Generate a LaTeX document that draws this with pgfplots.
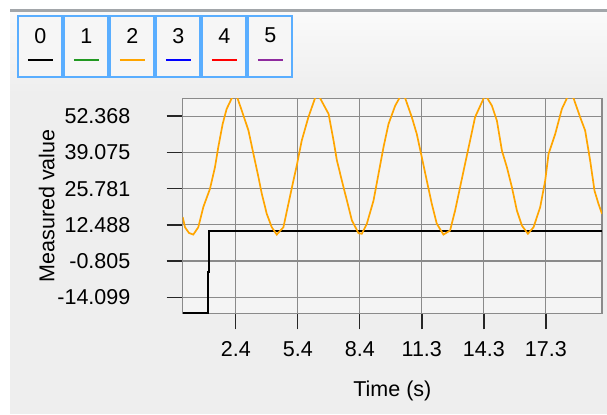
\documentclass[border=0pt]{standalone}
\usepackage{pgfplots}
\pgfplotsset{compat=1.18}
\usepackage{fontspec}
\setmainfont{Liberation Sans}

\definecolor{panel}{HTML}{EEEEEE}
\definecolor{panetop}{HTML}{FAFAFA}
\definecolor{topline}{HTML}{A2A6AA}
\definecolor{plotbg}{HTML}{F4F4F4}
\definecolor{gridgray}{HTML}{8A8A8A}
\definecolor{tabblue}{HTML}{5AAEFF}
\definecolor{tabfill}{HTML}{F6F6F6}
\definecolor{s0}{HTML}{000000}
\definecolor{s1}{HTML}{229922}
\definecolor{s2}{HTML}{FFA500}
\definecolor{s3}{HTML}{0000FF}
\definecolor{s4}{HTML}{FF0000}
\definecolor{s5}{HTML}{8E2A9E}

\begin{document}
\fontsize{21.5bp}{25bp}\selectfont
\begin{tikzpicture}[x=1bp,y=1bp]
\path[use as bounding box] (0,0) rectangle (607,414);
\fill[white] (0,0) rectangle (607,414);
\fill[panel] (10,0) rectangle (607,402);
\shade[top color=panetop, bottom color=panel] (10,320) rectangle (607,402);
\draw[topline, line width=2.6bp] (10,403.6) -- (607,403.6);

% series tabs
\foreach \i/\c in {0/s0,1/s1,2/s2,3/s3,4/s4,5/s5} {
  \pgfmathsetmacro{\xl}{18.3+46*\i}
  \draw[tabblue, line width=2bp, fill=tabfill] (\xl,337.3) rectangle ++(44,61);
  \node[anchor=center, inner sep=0pt] at (\xl+22,378.3) {\i};
  \draw[\c, line width=2bp] (\xl+9.5,353.7) -- ++(25,0);
}

\begin{axis}[
    at={(182.7bp,100.7bp)}, anchor=south west,
    scale only axis,
    width=419.3bp, height=215bp,
    xmin=-0.15, xmax=20,
    ymin=-20, ymax=58.93,
    axis background/.style={fill=plotbg},
    axis line style={draw=gridgray, line width=1.3bp},
    grid=major,
    major grid style={draw=gridgray, line width=1.3bp},
    tick align=outside,
    major tick length=16bp,
    every tick/.style={draw=black!85, line width=1.4bp},
    xtick pos=left, ytick pos=left,
    xtick={2.4,5.38,8.36,11.34,14.32,17.3},
    xticklabels={2.4,5.4,8.4,11.3,14.3,17.3},
    ytick={-14.099,-0.805,12.488,25.781,39.075,52.368},
    yticklabels={-14.099,-0.805,12.488,25.781,39.075,52.368},
    xticklabel style={anchor=center, yshift=-20bp},
    yticklabel style={anchor=east, xshift=-29bp},
    xlabel={Time (s)},
    ylabel={Measured value},
    xlabel style={at={(axis description cs:0.5,-0.36)}, anchor=center},
    ylabel style={at={(axis description cs:-0.3243,0.5)}, anchor=center},
    /pgf/number format/assume math mode=true,
]
% series 0
\addplot[s0, line width=1.8bp] coordinates {
  (-0.15,-20) (1.05,-20) (1.05,-4.9) (1.13,-4.9) (1.13,10.3) (20,10.3)
};
% series 2
\addplot[s2, line width=1.7bp] coordinates {
  (-0.15,15.3) (-0.04,11.6) (0.15,9.5) (0.36,8.9) (0.60,11.6) (0.84,19.0)
  (1.16,25.7) (1.40,33.6) (1.56,41.0) (1.77,49.5) (1.96,55.0) (2.21,59.0)
  (2.35,60.2) (2.48,59.0) (2.69,54.4) (3.01,47.1) (3.25,38.5) (3.49,30.0)
  (3.65,23.9) (3.89,16.5) (4.13,11.6) (4.37,8.9) (4.69,11.6) (4.93,20.2)
  (5.17,28.7) (5.33,34.2) (5.57,43.4) (5.89,52.0) (6.21,59.0) (6.33,60.2)
  (6.45,59.0) (6.86,53.2) (7.10,43.4) (7.26,36.1) (7.50,28.7) (7.74,21.4)
  (7.98,14.1) (8.30,9.4) (8.46,9.2) (8.70,12.9) (9.02,21.4) (9.26,31.2)
  (9.50,41.0) (9.74,49.5) (10.06,56.2) (10.35,60.2) (10.54,59.0) (10.86,52.0)
  (11.10,45.8) (11.34,37.3) (11.58,28.7) (11.82,20.2) (12.06,12.9) (12.38,8.9)
  (12.70,10.4) (12.94,17.7) (13.18,26.3) (13.42,34.9) (13.66,43.4) (13.90,52.0)
  (14.15,56.2) (14.39,60.2) (14.71,56.2) (14.95,50.7) (15.19,39.7) (15.43,33.6)
  (15.67,26.3) (15.91,17.7) (16.15,12.2) (16.44,9.2) (16.71,11.6) (17.03,19.0)
  (17.27,28.7) (17.43,38.5) (17.75,45.8) (18.07,55.0) (18.39,60.2) (18.63,59.0)
  (18.95,52.0) (19.19,47.1) (19.43,36.1) (19.64,25.0) (19.83,20.2) (20.0,16.5)
};
\end{axis}
\end{tikzpicture}
\end{document}
